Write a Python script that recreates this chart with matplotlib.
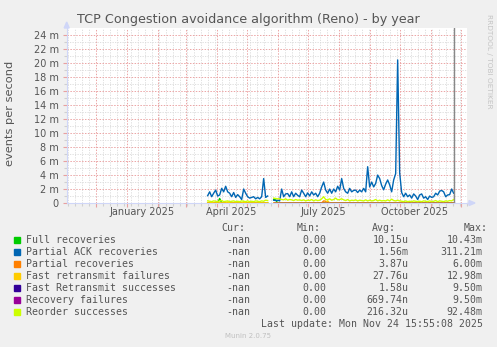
import numpy as np
import pandas as pd
import matplotlib
matplotlib.use("Agg")
import matplotlib.pyplot as plt
import matplotlib.dates as mdates
from matplotlib.patches import Rectangle, Polygon

# 설정값
W, H = 497, 347
TITLE = "TCP Congestion avoidance algorithm (Reno) - by year"
Y_LABEL = "events per second"
X_START = pd.Timestamp("2024-11-02 08:00")
X_END = X_START + pd.Timedelta(days=400)
NOW = pd.Timestamp("2025-11-24 15:55")
DATA_START = pd.Timestamp("2025-03-23")   # 2일 간격 샘플

# Partial ACK recoveries (단위: milli)
partial_ack = [
    1.05, 1.6, 0.9, 1.4, 1.85, 1.0, 1.15, 2.1, 1.6, 2.4,
    1.6, 1.4, 0.9, 1.5, 0.8, 1.2, 0.9, 0.5, 2.0, 1.4,
    0.9, 0.7, 0.8, 0.9, 0.6, 0.8, 0.6, 0.9, 3.5, 0.8,
    1.0, np.nan, np.nan, 0.4, 0.35, 0.4, 0.3,
    2.0, 0.9, 1.3, 1.35, 0.9, 1.6, 0.9, 1.4, 1.1, 0.9,
    1.85, 1.4, 0.9, 1.45, 1.0, 1.6, 1.15, 1.4, 0.9, 1.4,
    2.3, 3.0, 1.85, 1.4, 2.0, 1.4, 2.0, 1.6, 2.4, 1.85,
    3.5, 2.1, 1.6, 1.4, 2.1, 1.6, 1.8, 1.85, 1.5, 1.85,
    1.6, 2.1, 1.6, 5.2, 2.3, 3.0, 2.3, 2.8, 4.0, 3.5,
    2.5, 1.9, 2.7, 3.3, 2.6, 1.6, 3.3, 4.2, 20.5, 4.3,
    1.5, 0.9, 1.4, 0.9, 1.15, 0.7, 1.3, 1.0, 0.5, 1.15,
    1.3, 0.7, 0.9, 0.5, 1.0, 0.8, 0.9, 1.4, 1.15, 1.7,
    1.8, 1.6, 0.9, 1.15, 1.2, 2.0, 1.4,
]

# Reorder successes
reorder = [
    0.3, 0.25, 0.2, 0.3, 0.25, 0.2, 0.3, 0.35, 0.2, 0.25,
    0.3, 0.2, 0.25, 0.3, 0.2, 0.25, 0.2, 0.3, 0.25, 0.2,
    0.3, 0.2, 0.25, 0.2, 0.3, 0.25, 0.2, 0.3, 0.25, 0.4,
    0.35, np.nan, np.nan, 0.7, 0.65, 0.6, 0.6,
    0.5, 0.45, 0.6, 0.4, 0.5, 0.45, 0.35, 0.5, 0.4, 0.45,
    0.35, 0.45, 0.3, 0.4, 0.35, 0.5, 0.3, 0.45, 0.35, 0.4,
    0.6, 0.9, 0.5, 0.45, 0.6, 0.4, 0.5, 0.7, 0.45, 0.5,
    0.6, 0.45, 0.35, 0.5, 0.3, 0.4, 0.35, 0.45, 0.3, 0.4,
    0.35, 0.3, 0.45, 0.3, 0.4, 0.3, 0.35, 0.5, 0.3, 0.4,
    0.3, 0.35, 0.3, 0.45, 0.3, 0.55, 0.35, 0.3, 0.4, 0.3,
    0.25, 0.2, 0.3, 0.2, 0.25, 0.2, 0.3, 0.25, 0.2, 0.25,
    0.2, 0.3, 0.25, 0.2, 0.3, 0.2, 0.25, 0.35, 0.2, 0.3,
    0.25, 0.2, 0.3, 0.25, 0.35, 0.3, 0.5,
]

# 거의 0인 계열: 0이 아닌 샘플만 (인덱스: 값)
full_rec_nonzero = {6: 0.65, 33: 0.5, 34: 0.45}
partial_rec_nonzero = {58: 0.3, 59: 0.25}
fast_fail_nonzero = {2: 0.15, 10: 0.15, 18: 0.15, 60: 0.3}
new_fields_from = 33   # Fast Retransmit successes / Recovery failures 시작

legend_names = ["Full recoveries", "Partial ACK recoveries", "Partial recoveries",
                "Fast retransmit failures", "Fast Retransmit successes",
                "Recovery failures", "Reorder successes"]
colors = ["#00CC00", "#0066B3", "#FF8000", "#FFCC00", "#330099", "#990099", "#CCFF00"]
cur_vals = ["-nan"] * 7
min_vals = ["0.00"] * 7
avg_vals = ["10.15u", "1.56m", "3.87u", "27.76u", "1.58u", "669.74n", "216.32u"]
max_vals = ["10.43m", "311.21m", "6.00m", "12.98m", "9.50m", "9.50m", "92.48m"]

y_ticks = [0, 2, 4, 6, 8, 10, 12, 14, 16, 18, 20, 22, 24]
x_labels = ["January 2025", "April 2025", "July 2025", "October 2025"]
x_label_dates = ["2025-01-16", "2025-04-16", "2025-07-17", "2025-10-16"]

# 계열 구성
n = len(partial_ack)
dates = pd.date_range(DATA_START, periods=n, freq="2D")
valid = ~np.isnan(np.array(partial_ack))


def sparse(d, start=0):
    s = np.where(valid, 0.0, np.nan)
    s[:start] = np.nan
    for k, v in d.items():
        s[k] = v
    return s


series = [
    sparse(full_rec_nonzero),
    np.array(partial_ack),
    sparse(partial_rec_nonzero),
    sparse(fast_fail_nonzero),
    sparse({}, new_fields_from),
    sparse({}, new_fields_from),
    np.array(reorder),
]

FONT_C = "#555555"
fig = plt.figure(figsize=(W / 100, H / 100), dpi=100, facecolor="#F0F0F0")
ax = fig.add_axes([67 / W, (H - 203) / H, 400 / W, 175 / H])
ax.set_facecolor("white")

for i, s in enumerate(series):
    ax.plot(dates, s, color=colors[i], lw=1.0, zorder=3 + i)

ax.axvline(NOW, color="#888888", lw=1.0, zorder=10)

ax.set_xlim(X_START, X_END)
ax.set_ylim(0, 25.07)

# 그리드
ax.set_yticks(y_ticks)
ax.set_yticklabels(["0"] + [f"{t} m" for t in y_ticks[1:]])
ax.set_yticks(np.arange(1, 25, 2), minor=True)
ax.xaxis.set_major_locator(mdates.MonthLocator())
ax.xaxis.set_minor_locator(mdates.WeekdayLocator(byweekday=mdates.SU))
ax.set_xticklabels([])
ax.grid(which="minor", color="#DADADA", linestyle=(0, (1.5, 1.5)), lw=0.6, zorder=1)
ax.grid(which="major", color="#EBA5A5", linestyle=(0, (1.5, 1.5)), lw=0.7, zorder=2)
ax.tick_params(which="major", length=3, width=0.8, color="#E8A0A0",
               labelsize=7, labelcolor=FONT_C, pad=3)
ax.tick_params(which="minor", length=2, width=0.8, color="#D0D0D0")
ax.tick_params(axis="x", which="both", labelbottom=False)

for sp in ["top", "right"]:
    ax.spines[sp].set_visible(False)
for sp in ["left", "bottom"]:
    ax.spines[sp].set_color("#CFD6F8")
    ax.spines[sp].set_zorder(20)

for lab, d in zip(x_labels, x_label_dates):
    ax.text(pd.Timestamp(d), -4 / 175, lab, transform=ax.get_xaxis_transform(),
            ha="center", va="top", fontsize=7, color=FONT_C)

# 축 화살표
def fx(x):
    return x / W


def fy(y):
    return 1 - y / H


fig.add_artist(Polygon([[fx(64.2), fy(28)], [fx(69.2), fy(28)], [fx(66.7), fy(22)]],
                       closed=True, color="#CFD6F8", transform=fig.transFigure))
fig.add_artist(plt.Line2D([fx(467), fx(469)], [fy(203), fy(203)], color="#CFD6F8",
                          lw=1, transform=fig.transFigure))
fig.add_artist(Polygon([[fx(469), fy(200.5)], [fx(469), fy(205.5)], [fx(475), fy(203)]],
                       closed=True, color="#CFD6F8", transform=fig.transFigure))

# 텍스트
fig.text(fx(248), fy(20), TITLE, ha="center", va="center", fontsize=9.2, color=FONT_C)
fig.text(fx(10), fy(113), Y_LABEL, ha="center", va="center", rotation=90,
         fontsize=8.2, color=FONT_C)
fig.text(fx(489), fy(14), "RRDTOOL / TOBI OETIKER", ha="center", va="top",
         rotation=-90, fontsize=5.3, color="#C4C4C4")

MONO = "DejaVu Sans Mono"
LFS = 7.1
fig.text(fx(221.7), fy(228.3), "Cur:", ha="left", va="center", family=MONO, fontsize=LFS, color=FONT_C)
fig.text(fx(296.7), fy(228.3), "Min:", ha="left", va="center", family=MONO, fontsize=LFS, color=FONT_C)
fig.text(fx(371.7), fy(228.3), "Avg:", ha="left", va="center", family=MONO, fontsize=LFS, color=FONT_C)
fig.text(fx(464), fy(228.3), "Max:", ha="left", va="center", family=MONO, fontsize=LFS, color=FONT_C)

for i, name in enumerate(legend_names):
    yy = 240 + i * 11.95
    fig.add_artist(Rectangle((fx(14), fy(yy + 3)), 6 / W, 6 / H, color=colors[i],
                             transform=fig.transFigure))
    fig.text(fx(26.5), fy(yy), name, ha="left", va="center", family=MONO, fontsize=LFS, color=FONT_C)
    fig.text(fx(250.7), fy(yy), cur_vals[i], ha="right", va="center", family=MONO, fontsize=LFS, color=FONT_C)
    fig.text(fx(326), fy(yy), min_vals[i], ha="right", va="center", family=MONO, fontsize=LFS, color=FONT_C)
    fig.text(fx(408.3), fy(yy), avg_vals[i], ha="right", va="center", family=MONO, fontsize=LFS, color=FONT_C)
    fig.text(fx(482.7), fy(yy), max_vals[i], ha="right", va="center", family=MONO, fontsize=LFS, color=FONT_C)

fig.text(fx(482.7), fy(324), "Last update: Mon Nov 24 15:55:08 2025", ha="right", va="center",
         family=MONO, fontsize=LFS, color=FONT_C)
fig.text(fx(247.7), fy(335.7), "Munin 2.0.75", ha="center", va="center", fontsize=5, color="#C0C0C0")

fig.savefig("out.png", dpi=100, facecolor=fig.get_facecolor())
